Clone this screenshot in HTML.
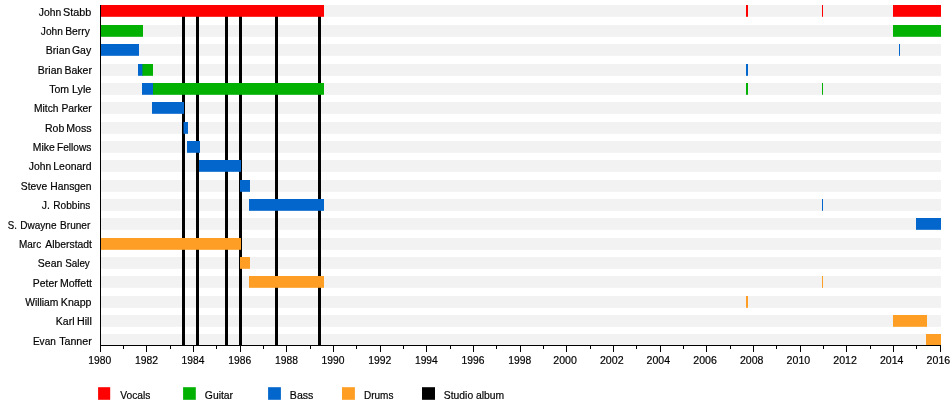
<!DOCTYPE html>
<html><head><meta charset="utf-8"><title>Timeline</title>
<style>
html,body{margin:0;padding:0;background:#fff;}
body{width:950px;height:405px;overflow:hidden;}
svg{display:block;}
text{font-family:"Liberation Sans",sans-serif;fill:#000;stroke:#000;stroke-width:0.2px;}
</style></head><body>
<svg width="950" height="405" viewBox="0 0 950 405">
<rect x="0" y="0" width="950" height="405" fill="#ffffff"/>
<rect x="100" y="5.00" width="841" height="11.8" fill="#f2f2f2"/>
<rect x="100" y="25.00" width="841" height="11.8" fill="#f2f2f2"/>
<rect x="100" y="44.00" width="841" height="11.8" fill="#f2f2f2"/>
<rect x="100" y="64.00" width="841" height="11.8" fill="#f2f2f2"/>
<rect x="100" y="83.00" width="841" height="11.8" fill="#f2f2f2"/>
<rect x="100" y="102.00" width="841" height="11.8" fill="#f2f2f2"/>
<rect x="100" y="122.00" width="841" height="11.8" fill="#f2f2f2"/>
<rect x="100" y="141.00" width="841" height="11.8" fill="#f2f2f2"/>
<rect x="100" y="160.00" width="841" height="11.8" fill="#f2f2f2"/>
<rect x="100" y="180.00" width="841" height="11.8" fill="#f2f2f2"/>
<rect x="100" y="199.00" width="841" height="11.8" fill="#f2f2f2"/>
<rect x="100" y="218.00" width="841" height="11.8" fill="#f2f2f2"/>
<rect x="100" y="238.00" width="841" height="11.8" fill="#f2f2f2"/>
<rect x="100" y="257.00" width="841" height="11.8" fill="#f2f2f2"/>
<rect x="100" y="276.00" width="841" height="11.8" fill="#f2f2f2"/>
<rect x="100" y="296.00" width="841" height="11.8" fill="#f2f2f2"/>
<rect x="100" y="315.00" width="841" height="11.8" fill="#f2f2f2"/>
<rect x="100" y="334.00" width="841" height="11.8" fill="#f2f2f2"/>
<rect x="182" y="10" width="3" height="335" fill="#000"/>
<rect x="196" y="10" width="3" height="335" fill="#000"/>
<rect x="225" y="10" width="3" height="335" fill="#000"/>
<rect x="239" y="10" width="3" height="335" fill="#000"/>
<rect x="275" y="10" width="3" height="335" fill="#000"/>
<rect x="318" y="10" width="3" height="335" fill="#000"/>
<rect x="100" y="5.00" width="224.00" height="11.8" fill="#ff0000"/>
<rect x="746" y="5.00" width="2.00" height="11.8" fill="#ff0000"/>
<rect x="822" y="5.00" width="1.00" height="11.8" fill="#ff0000"/>
<rect x="893" y="5.00" width="48.00" height="11.8" fill="#ff0000"/>
<rect x="100" y="25.00" width="43.00" height="11.8" fill="#03b103"/>
<rect x="893" y="25.00" width="48.00" height="11.8" fill="#03b103"/>
<rect x="100" y="44.00" width="39.00" height="11.8" fill="#0266cd"/>
<rect x="899" y="44.00" width="1.00" height="11.8" fill="#0266cd"/>
<rect x="138" y="64.00" width="5.00" height="11.8" fill="#0266cd"/>
<rect x="142.4" y="64.00" width="10.60" height="11.8" fill="#03b103"/>
<rect x="746" y="64.00" width="2.00" height="11.8" fill="#0266cd"/>
<rect x="142" y="83.00" width="11.00" height="11.8" fill="#0266cd"/>
<rect x="153" y="83.00" width="171.00" height="11.8" fill="#03b103"/>
<rect x="746" y="83.00" width="2.00" height="11.8" fill="#03b103"/>
<rect x="822" y="83.00" width="1.00" height="11.8" fill="#03b103"/>
<rect x="152" y="102.00" width="32.00" height="11.8" fill="#0266cd"/>
<rect x="183.5" y="122.00" width="4.50" height="11.8" fill="#0266cd"/>
<rect x="187" y="141.00" width="13.00" height="11.8" fill="#0266cd"/>
<rect x="199" y="160.00" width="42.00" height="11.8" fill="#0266cd"/>
<rect x="240" y="180.00" width="10.00" height="11.8" fill="#0266cd"/>
<rect x="249" y="199.00" width="75.00" height="11.8" fill="#0266cd"/>
<rect x="822" y="199.00" width="1.00" height="11.8" fill="#0266cd"/>
<rect x="916" y="218.00" width="25.00" height="11.8" fill="#0266cd"/>
<rect x="100" y="238.00" width="141.00" height="11.8" fill="#ff9e24"/>
<rect x="240" y="257.00" width="10.00" height="11.8" fill="#ff9e24"/>
<rect x="249" y="276.00" width="75.00" height="11.8" fill="#ff9e24"/>
<rect x="822" y="276.00" width="1.00" height="11.8" fill="#ff9e24"/>
<rect x="746" y="296.00" width="2.00" height="11.8" fill="#ff9e24"/>
<rect x="893" y="315.00" width="34.00" height="11.8" fill="#ff9e24"/>
<rect x="926" y="334.00" width="15.00" height="11.8" fill="#ff9e24"/>
<rect x="100" y="5" width="1" height="341" fill="#000"/>
<rect x="100" y="345" width="841" height="1" fill="#000"/>
<rect x="100" y="345" width="1" height="7" fill="#000"/>
<rect x="123" y="345" width="1" height="4" fill="#000"/>
<rect x="146" y="345" width="1" height="7" fill="#000"/>
<rect x="170" y="345" width="1" height="4" fill="#000"/>
<rect x="193" y="345" width="1" height="7" fill="#000"/>
<rect x="216" y="345" width="1" height="4" fill="#000"/>
<rect x="240" y="345" width="1" height="7" fill="#000"/>
<rect x="263" y="345" width="1" height="4" fill="#000"/>
<rect x="286" y="345" width="1" height="7" fill="#000"/>
<rect x="310" y="345" width="1" height="4" fill="#000"/>
<rect x="333" y="345" width="1" height="7" fill="#000"/>
<rect x="356" y="345" width="1" height="4" fill="#000"/>
<rect x="380" y="345" width="1" height="7" fill="#000"/>
<rect x="403" y="345" width="1" height="4" fill="#000"/>
<rect x="426" y="345" width="1" height="7" fill="#000"/>
<rect x="450" y="345" width="1" height="4" fill="#000"/>
<rect x="473" y="345" width="1" height="7" fill="#000"/>
<rect x="496" y="345" width="1" height="4" fill="#000"/>
<rect x="520" y="345" width="1" height="7" fill="#000"/>
<rect x="543" y="345" width="1" height="4" fill="#000"/>
<rect x="566" y="345" width="1" height="7" fill="#000"/>
<rect x="590" y="345" width="1" height="4" fill="#000"/>
<rect x="613" y="345" width="1" height="7" fill="#000"/>
<rect x="636" y="345" width="1" height="4" fill="#000"/>
<rect x="660" y="345" width="1" height="7" fill="#000"/>
<rect x="683" y="345" width="1" height="4" fill="#000"/>
<rect x="706" y="345" width="1" height="7" fill="#000"/>
<rect x="730" y="345" width="1" height="4" fill="#000"/>
<rect x="753" y="345" width="1" height="7" fill="#000"/>
<rect x="776" y="345" width="1" height="4" fill="#000"/>
<rect x="800" y="345" width="1" height="7" fill="#000"/>
<rect x="823" y="345" width="1" height="4" fill="#000"/>
<rect x="846" y="345" width="1" height="7" fill="#000"/>
<rect x="870" y="345" width="1" height="4" fill="#000"/>
<rect x="893" y="345" width="1" height="7" fill="#000"/>
<rect x="916" y="345" width="1" height="4" fill="#000"/>
<rect x="940" y="345" width="1" height="7" fill="#000"/>
<g style="opacity:0.999">
<text transform="translate(38.87,15.8) scale(0.9399,1)" font-size="11">John</text>
<text transform="translate(63.11,15.8) scale(0.9838,1)" font-size="11">Stabb</text>
<text transform="translate(40.87,34.8) scale(0.9224,1)" font-size="11">John</text>
<text transform="translate(65.28,34.8) scale(0.9340,1)" font-size="11">Berry</text>
<text transform="translate(45.86,53.8) scale(0.9575,1)" font-size="11">Brian</text>
<text transform="translate(71.92,53.8) scale(0.9529,1)" font-size="11">Gay</text>
<text transform="translate(37.87,73.8) scale(0.9534,1)" font-size="11">Brian</text>
<text transform="translate(64.46,73.8) scale(0.9557,1)" font-size="11">Baker</text>
<text transform="translate(49.16,92.8) scale(0.9570,1)" font-size="11">Tom</text>
<text transform="translate(71.94,92.8) scale(0.9850,1)" font-size="11">Lyle</text>
<text transform="translate(33.98,111.8) scale(0.9340,1)" font-size="11">Mitch</text>
<text transform="translate(61.38,111.8) scale(0.9402,1)" font-size="11">Parker</text>
<text transform="translate(44.96,131.8) scale(0.9589,1)" font-size="11">Rob</text>
<text transform="translate(66.16,131.8) scale(0.9640,1)" font-size="11">Moss</text>
<text transform="translate(32.87,150.8) scale(0.9463,1)" font-size="11">Mike</text>
<text transform="translate(56.99,150.8) scale(0.9250,1)" font-size="11">Fellows</text>
<text transform="translate(28.87,169.8) scale(0.9399,1)" font-size="11">John</text>
<text transform="translate(53.27,169.8) scale(0.9497,1)" font-size="11">Leonard</text>
<text transform="translate(20.83,189.8) scale(0.9364,1)" font-size="11">Steve</text>
<text transform="translate(50.28,189.8) scale(0.9392,1)" font-size="11">Hansgen</text>
<text transform="translate(41.76,208.8) scale(0.9517,1)" font-size="11">J.</text>
<text transform="translate(53.30,208.8) scale(0.9176,1)" font-size="11">Robbins</text>
<text transform="translate(7.86,228.8) scale(0.8789,1)" font-size="11">S.</text>
<text transform="translate(20.30,228.8) scale(0.9121,1)" font-size="11">Dwayne</text>
<text transform="translate(60.10,228.8) scale(0.9156,1)" font-size="11">Bruner</text>
<text transform="translate(19.01,247.8) scale(0.9075,1)" font-size="11">Marc</text>
<text transform="translate(45.30,247.8) scale(0.9434,1)" font-size="11">Alberstadt</text>
<text transform="translate(37.82,266.8) scale(0.9551,1)" font-size="11">Sean</text>
<text transform="translate(65.15,266.8) scale(0.8963,1)" font-size="11">Saley</text>
<text transform="translate(32.87,286.8) scale(0.9465,1)" font-size="11">Peter</text>
<text transform="translate(59.96,286.8) scale(0.9600,1)" font-size="11">Moffett</text>
<text transform="translate(25.18,305.8) scale(0.9386,1)" font-size="11">William</text>
<text transform="translate(60.86,305.8) scale(0.9639,1)" font-size="11">Knapp</text>
<text transform="translate(55.86,324.8) scale(0.9556,1)" font-size="11">Karl</text>
<text transform="translate(76.95,324.8) scale(0.9761,1)" font-size="11">Hill</text>
<text transform="translate(32.90,344.8) scale(0.9149,1)" font-size="11">Evan</text>
<text transform="translate(59.16,344.8) scale(0.9714,1)" font-size="11">Tanner</text>
<text transform="translate(88.28,363.8) scale(0.9384,1)" font-size="11">1980</text>
<text transform="translate(134.94,363.8) scale(0.9435,1)" font-size="11">1982</text>
<text transform="translate(181.62,363.8) scale(0.9333,1)" font-size="11">1984</text>
<text transform="translate(228.28,363.8) scale(0.9384,1)" font-size="11">1986</text>
<text transform="translate(274.95,363.8) scale(0.9384,1)" font-size="11">1988</text>
<text transform="translate(321.61,363.8) scale(0.9384,1)" font-size="11">1990</text>
<text transform="translate(368.27,363.8) scale(0.9435,1)" font-size="11">1992</text>
<text transform="translate(414.95,363.8) scale(0.9333,1)" font-size="11">1994</text>
<text transform="translate(461.61,363.8) scale(0.9384,1)" font-size="11">1996</text>
<text transform="translate(508.28,363.8) scale(0.9384,1)" font-size="11">1998</text>
<text transform="translate(553.29,363.8) scale(0.9617,1)" font-size="11">2000</text>
<text transform="translate(599.95,363.8) scale(0.9668,1)" font-size="11">2002</text>
<text transform="translate(646.62,363.8) scale(0.9566,1)" font-size="11">2004</text>
<text transform="translate(693.29,363.8) scale(0.9617,1)" font-size="11">2006</text>
<text transform="translate(739.95,363.8) scale(0.9617,1)" font-size="11">2008</text>
<text transform="translate(786.62,363.8) scale(0.9617,1)" font-size="11">2010</text>
<text transform="translate(833.28,363.8) scale(0.9668,1)" font-size="11">2012</text>
<text transform="translate(879.96,363.8) scale(0.9566,1)" font-size="11">2014</text>
<text transform="translate(926.62,363.8) scale(0.9617,1)" font-size="11">2016</text>
<rect x="98.1" y="387.2" width="12.1" height="12.6" fill="#ff0000"/>
<text transform="translate(120.18,399) scale(0.9318,1)" font-size="11">Vocals</text>
<rect x="183.1" y="387.2" width="12.7" height="12.6" fill="#03b103"/>
<text transform="translate(204.83,399) scale(0.9436,1)" font-size="11">Guitar</text>
<rect x="268.1" y="387.2" width="12.8" height="12.6" fill="#0266cd"/>
<text transform="translate(289.86,399) scale(0.9634,1)" font-size="11">Bass</text>
<rect x="342" y="387.2" width="12.9" height="12.6" fill="#ff9e24"/>
<text transform="translate(363.90,399) scale(0.9124,1)" font-size="11">Drums</text>
<rect x="422" y="387.2" width="13" height="12.6" fill="#000"/>
<text transform="translate(443.83,399) scale(0.9413,1)" font-size="11">Studio album</text>
</g>
</svg>
</body></html>
